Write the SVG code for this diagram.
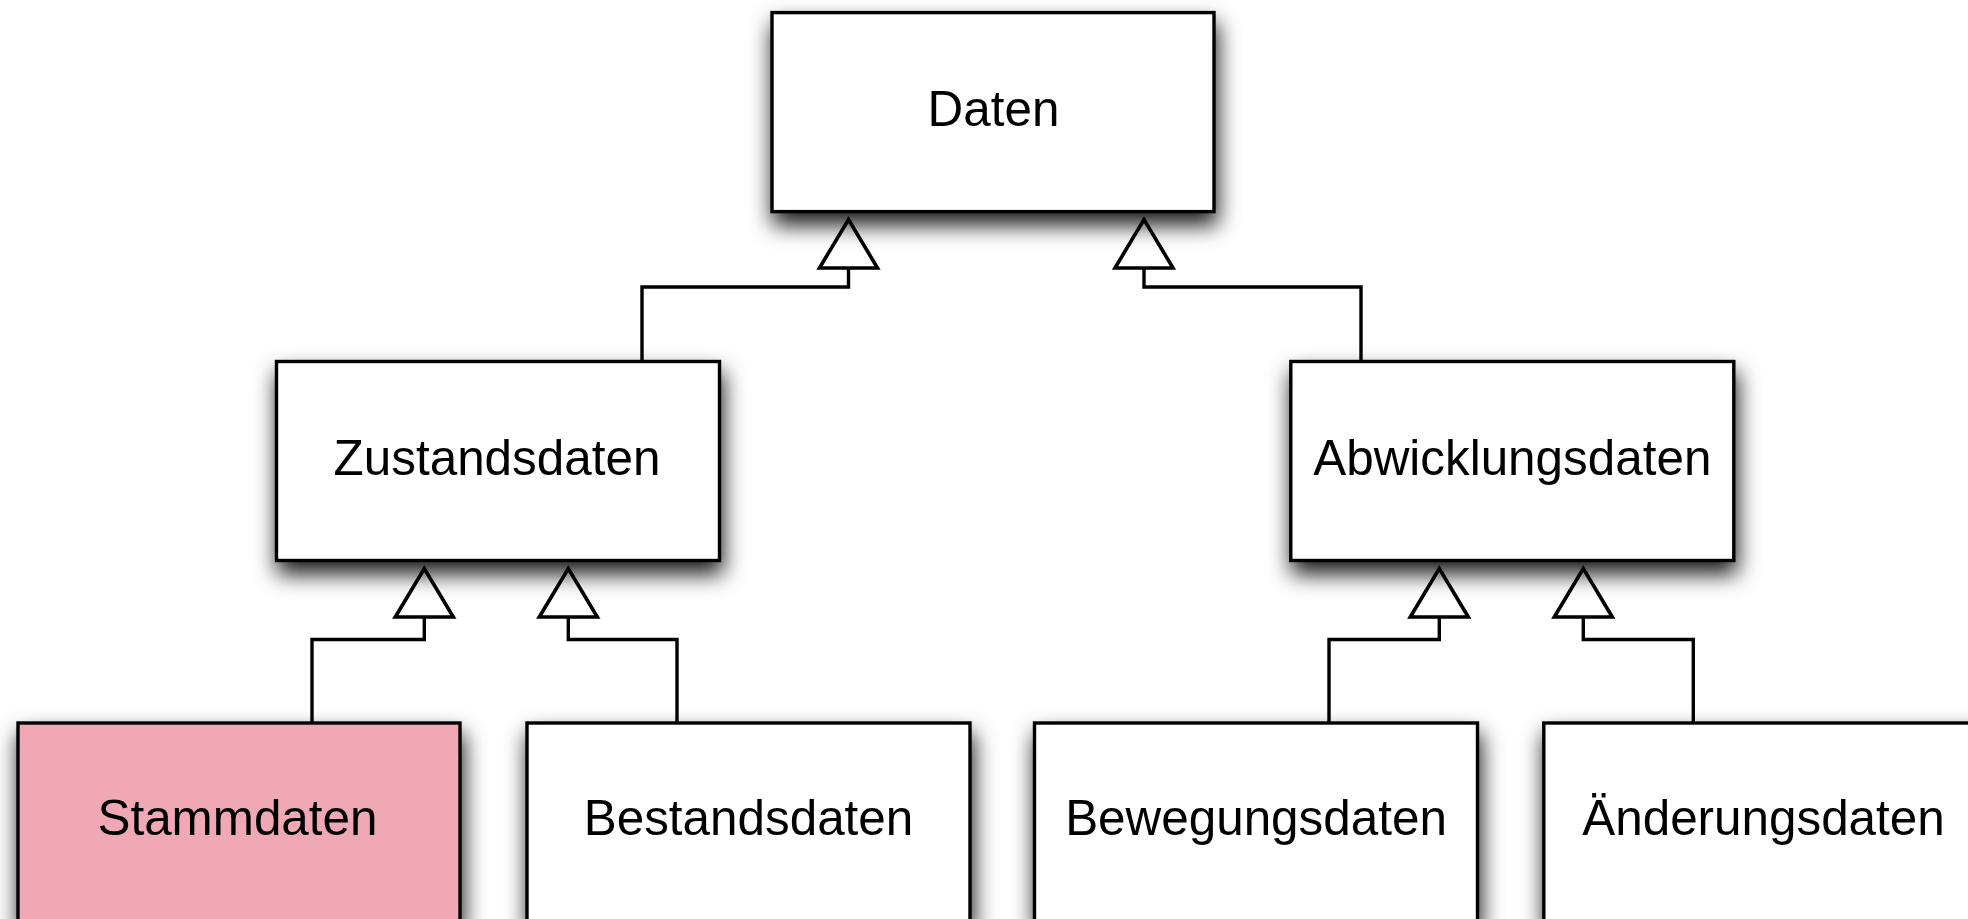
<svg xmlns="http://www.w3.org/2000/svg" width="1968" height="919" viewBox="0 0 1968 919">
  <style>
    .box { fill: #ffffff; stroke: #000000; stroke-width: 3.4; filter: url(#shadow); }
    .box.hl { fill: #f0a9b4; }
    .label { font-family: "Liberation Sans", Arial, Helvetica, sans-serif; font-size: 49.4px; fill: #000000; text-anchor: middle; }
    .conn { fill: none; stroke: #000000; stroke-width: 3.4; stroke-linejoin: miter; marker-end: url(#inherit); }
  </style>
  <defs>
    <filter id="shadow" x="-20%" y="-25%" width="140%" height="170%">
      <feDropShadow dx="2" dy="12" stdDeviation="11" flood-color="#000000" flood-opacity="0.9"/>
    </filter>
    <!-- hollow generalization triangle -->
    <marker id="inherit" markerUnits="userSpaceOnUse" markerWidth="80" markerHeight="80" viewBox="-5 -40 60 80" refX="0" refY="0" orient="auto" overflow="visible">
      <polygon points="0,-29 48.5,0 0,29" fill="#ffffff" stroke="#000000" stroke-width="3.6" stroke-linejoin="miter"/>
    </marker>
  </defs>

  <rect width="1968" height="919" fill="#ffffff"/>

  <g id="connectors">
    <path class="conn" d="M642 361.5 V287 H848.5 V268"/>
    <path class="conn" d="M1361 361.5 V287 H1144 V268"/>
    <path class="conn" d="M312 723 V639.5 H424.3 V617"/>
    <path class="conn" d="M677 723 V639.5 H568.3 V617"/>
    <path class="conn" d="M1329 723 V639.5 H1439.3 V617"/>
    <path class="conn" d="M1693.3 723 V639.5 H1583.3 V617"/>
  </g>

  <g id="daten">
    <rect class="box" x="772" y="12.6" width="442" height="199"/>
    <text class="label" x="993.5" y="126">Daten</text>
  </g>

  <g id="zustandsdaten">
    <rect class="box" x="276.5" y="361.5" width="443" height="199"/>
    <text class="label" x="497" y="475">Zustandsdaten</text>
  </g>

  <g id="abwicklungsdaten">
    <rect class="box" x="1290.8" y="361.5" width="443" height="199"/>
    <text class="label" x="1512.3" y="475">Abwicklungsdaten</text>
  </g>

  <g id="stammdaten">
    <rect class="box hl" x="18" y="723" width="442" height="199"/>
    <text class="label" x="237.5" y="835">Stammdaten</text>
  </g>

  <g id="bestandsdaten">
    <rect class="box" x="527" y="723" width="443" height="199"/>
    <text class="label" x="748.5" y="835">Bestandsdaten</text>
  </g>

  <g id="bewegungsdaten">
    <rect class="box" x="1034.5" y="723" width="443" height="199"/>
    <text class="label" x="1256" y="835">Bewegungsdaten</text>
  </g>

  <g id="aenderungsdaten">
    <rect class="box" x="1543.8" y="723" width="443" height="199"/>
    <text class="label" x="1763.5" y="835">Änderungsdaten</text>
  </g>
</svg>
